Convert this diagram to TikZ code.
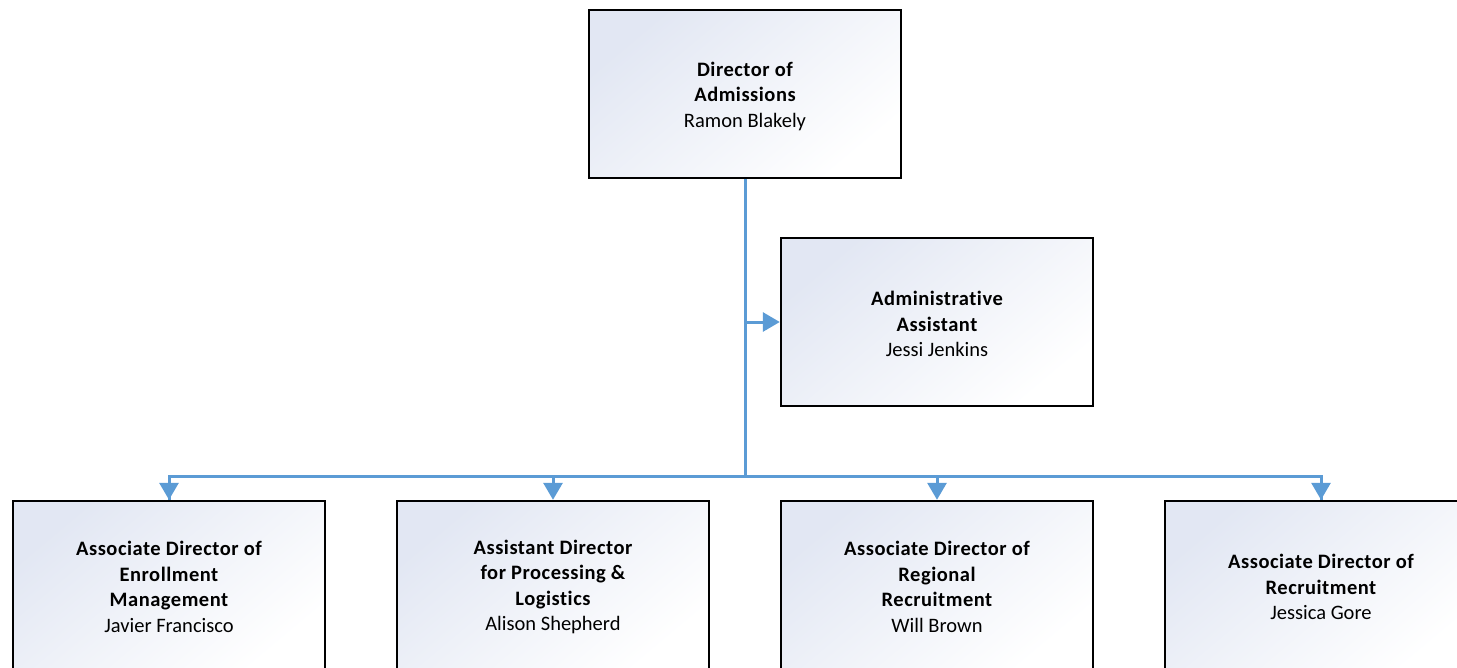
\documentclass[tikz,border=0pt]{standalone}
\usepackage{fontspec}
\setmainfont[Ligatures=NoCommon]{Carlito}
\newfontfamily\boldsp[LetterSpace=2.5,Ligatures=NoCommon]{Carlito}
\usetikzlibrary{arrows.meta}
\definecolor{linkblue}{HTML}{5B9BD5}
\definecolor{shadeblue}{HTML}{E2E7F3}
\newcommand{\ttl}[1]{{\boldsp\bfseries #1}}
\tikzset{
  orgbox/.style={draw=black, line width=2.4pt, minimum width=312pt, minimum height=168pt,
    inner sep=0pt, shading=axis, top color=shadeblue, bottom color=white, shading angle=40},
  orgtext/.style={inner sep=0pt, align=center, font=\fontsize{20.5}{25.5}\selectfont, yshift=-2pt},
  link/.style={draw=linkblue, line width=3pt},
  linkarrow/.style={link, -{Triangle[length=17pt,width=19pt]}}
}
\begin{document}
\begin{tikzpicture}[x=1pt,y=-1pt]
\useasboundingbox (0,0) rectangle (1457,667);
\clip (0,0) rectangle (1457,667);
\node[orgbox] (dir) at (745,94) {};
\node[orgbox] (adm) at (937,322) {};
\node[orgbox] (b1) at (169,585) {};
\node[orgbox] (b2) at (553,585) {};
\node[orgbox] (b3) at (937,585) {};
\node[orgbox] (b4) at (1321,585) {};
\node[orgtext] (dirt) at (dir.center) {\ttl{Director of}\\\ttl{Admissions}\\Ramon Blakely};
\node[orgtext] (admt) at (adm.center) {\ttl{Administrative}\\\ttl{Assistant}\\Jessi Jenkins};
\node[orgtext] (b1t) at (b1.center) {\ttl{Associate Director of}\\\ttl{Enrollment}\\\ttl{Management}\\Javier Francisco};
\node[orgtext] (b2t) at (b2.center) {\ttl{Assistant Director}\\\ttl{for Processing \&}\\\ttl{Logistics}\\Alison Shepherd};
\node[orgtext] (b3t) at (b3.center) {\ttl{Associate Director of}\\\ttl{Regional}\\\ttl{Recruitment}\\Will Brown};
\node[orgtext] (b4t) at (b4.center) {\ttl{Associate Director of}\\\ttl{Recruitment}\\Jessica Gore};
\coordinate (j) at (745,476);
\coordinate (ja) at (745,322);
\draw[link] (dir.south) -- (j);
\draw[linkarrow] (ja) -- (adm.west |- ja);
\draw[link] (j) -| (b1.north);
\draw[link] (j) -| (b4.north);
\draw[linkarrow] (j) -| (b1.north);
\draw[linkarrow] (j) -| (b2.north);
\draw[linkarrow] (j) -| (b3.north);
\draw[linkarrow] (j) -| (b4.north);
\end{tikzpicture}
\end{document}
